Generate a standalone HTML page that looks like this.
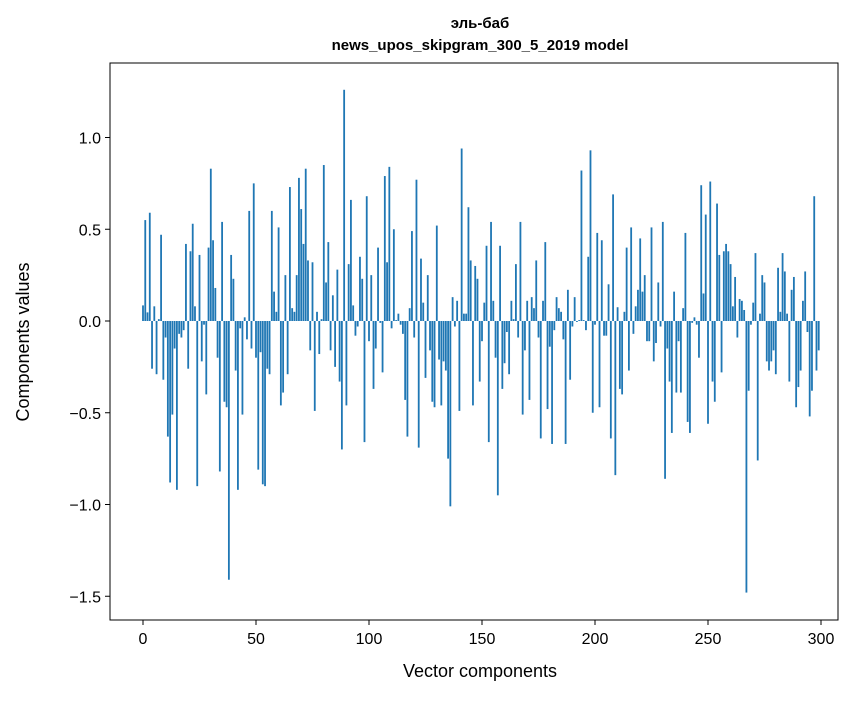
<!DOCTYPE html>
<html><head><meta charset="utf-8"><style>
body{margin:0;background:#fff;}
svg text{font-family:"Liberation Sans","DejaVu Sans",sans-serif;}
</style></head><body>
<svg id="chart" width="867" height="696" xmlns="http://www.w3.org/2000/svg">
<rect width="867" height="696" fill="#fff"/>
<text x="480" y="28" text-anchor="middle" font-size="15" font-weight="bold">эль-баб</text>
<text x="480" y="50" text-anchor="middle" font-size="15" font-weight="bold">news_upos_skipgram_300_5_2019 model</text>
<g id="bars"></g>
<g id="axes"></g>
<text x="480" y="677" text-anchor="middle" font-size="18">Vector components</text>
<text transform="translate(29,342) rotate(-90)" text-anchor="middle" font-size="18">Components values</text>
</svg>
<script>
const values = [
0.085,0.55,0.047,0.59,-0.26,0.08,-0.29,0.01,0.47,-0.32,
-0.09,-0.63,-0.88,-0.51,-0.15,-0.92,-0.07,-0.09,-0.05,0.42,
-0.26,0.38,0.53,0.08,-0.90,0.36,-0.22,-0.02,-0.40,0.40,
0.83,0.44,0.18,-0.20,-0.82,0.54,-0.44,-0.47,-1.41,0.36,
0.23,-0.27,-0.92,-0.04,-0.51,0.02,-0.10,0.60,-0.15,0.75,
-0.20,-0.81,-0.17,-0.89,-0.90,-0.26,-0.29,0.60,0.16,0.05,
0.51,-0.46,-0.39,0.25,-0.29,0.73,0.07,0.05,0.25,0.78,
0.61,0.42,0.83,0.33,-0.16,0.32,-0.49,0.05,-0.18,0.01,
0.85,0.21,0.43,-0.16,0.14,-0.25,0.28,-0.33,-0.70,1.26,
-0.46,0.31,0.66,0.085,-0.08,-0.03,0.35,0.23,-0.66,0.68,
-0.11,0.25,-0.37,-0.15,0.40,-0.01,-0.28,0.79,0.32,0.84,
-0.04,0.50,0.005,0.04,-0.02,-0.07,-0.43,-0.63,0.07,0.49,
-0.09,0.77,-0.69,0.34,0.10,-0.31,0.25,-0.16,-0.44,-0.47,
0.52,-0.21,-0.46,-0.22,-0.27,-0.75,-1.01,0.13,-0.03,0.11,
-0.49,0.94,0.04,0.04,0.62,0.33,-0.46,0.30,0.23,-0.33,
-0.11,0.10,0.41,-0.66,0.54,0.11,-0.20,-0.95,0.41,-0.37,
-0.23,-0.06,-0.29,0.11,0.01,0.31,-0.09,0.54,-0.51,-0.16,
0.11,-0.43,0.13,0.07,0.33,-0.09,-0.64,0.11,0.43,-0.48,
-0.14,-0.67,-0.05,0.13,0.07,0.05,-0.10,-0.67,0.17,-0.32,
-0.03,0.13,-0.005,0.005,0.82,0.005,-0.05,0.35,0.93,-0.50,
-0.02,0.48,-0.47,0.44,-0.08,-0.08,0.20,-0.64,0.69,-0.84,
0.075,-0.37,-0.40,0.05,0.40,-0.27,0.51,-0.07,0.08,0.17,
0.45,0.16,0.25,-0.11,-0.11,0.51,-0.22,-0.12,0.21,-0.03,
0.54,-0.86,-0.15,-0.33,-0.61,0.16,-0.39,-0.11,-0.39,0.07,
0.48,-0.55,-0.61,-0.01,0.02,-0.02,-0.20,0.74,0.15,0.58,
-0.56,0.76,-0.33,-0.44,0.64,0.36,-0.28,0.38,0.42,0.38,
0.31,0.08,0.24,-0.09,0.12,0.11,0.06,-1.48,-0.38,-0.02,
0.10,0.37,-0.76,0.04,0.25,0.21,-0.22,-0.27,-0.22,-0.16,
-0.29,0.29,0.05,0.37,0.27,0.04,-0.33,0.17,0.24,-0.47,
-0.36,-0.27,0.11,0.27,-0.06,-0.52,-0.38,0.68,-0.27,-0.16
];
const xTicks = [0,50,100,150,200,250,300];
const yTicks = [-1.5,-1.0,-0.5,0.0,0.5,1.0];
const yTickLabels = ["\u22121.5","\u22121.0","\u22120.5","0.0","0.5","1.0"];

const L=110,R=838,T=63,B=620;
const xs = i => 143 + 2.26*i;
const ys = v => 321 - 183.5*v;
const NS="http://www.w3.org/2000/svg";
const bars=document.getElementById('bars');
values.forEach((v,i)=>{
  const r=document.createElementNS(NS,'rect');
  const w=2.26*0.8;
  r.setAttribute('x',xs(i)-w/2);
  r.setAttribute('width',w);
  r.setAttribute('y',Math.min(ys(v),ys(0)));
  r.setAttribute('height',Math.abs(ys(v)-ys(0)));
  r.setAttribute('fill','#1f77b4');
  
  
  bars.appendChild(r);
});
const axes=document.getElementById('axes');
const frame=document.createElementNS(NS,'rect');
frame.setAttribute('x',L);frame.setAttribute('y',T);
frame.setAttribute('width',R-L);frame.setAttribute('height',B-T);
frame.setAttribute('fill','none');frame.setAttribute('stroke','#000');frame.setAttribute('stroke-width','1');


axes.appendChild(frame);
xTicks.forEach(t=>{
  const l=document.createElementNS(NS,'line');
  l.setAttribute('x1',xs(t));l.setAttribute('x2',xs(t));l.setAttribute('y1',B);l.setAttribute('y2',B+5);
  l.setAttribute('stroke','#000');
  
  
  axes.appendChild(l);
  const tx=document.createElementNS(NS,'text');
  tx.setAttribute('x',xs(t));tx.setAttribute('y',B+24);tx.setAttribute('text-anchor','middle');tx.setAttribute('font-size','16');
  tx.textContent=t;
  
  
  axes.appendChild(tx);
});
yTicks.forEach((t,k)=>{
  const l=document.createElementNS(NS,'line');
  l.setAttribute('x1',L-5);l.setAttribute('x2',L);l.setAttribute('y1',ys(t));l.setAttribute('y2',ys(t));
  l.setAttribute('stroke','#000');
  
  
  axes.appendChild(l);
  const tx=document.createElementNS(NS,'text');
  tx.setAttribute('x',L-9);tx.setAttribute('y',ys(t)+6);tx.setAttribute('text-anchor','end');tx.setAttribute('font-size','16');
  tx.textContent=yTickLabels[k];
  
  
  axes.appendChild(tx);
});
</script>
</body></html>
